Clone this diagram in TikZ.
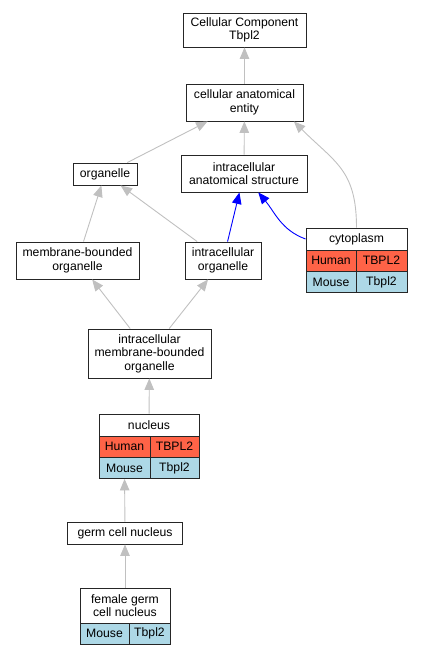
\documentclass[tikz,border=0pt]{standalone}
\usepackage{fontspec}
\setmainfont{Liberation Sans}
\usetikzlibrary{arrows.meta}
\definecolor{tomatored}{HTML}{FF6347}
\definecolor{mouseblue}{HTML}{ADD8E6}
\definecolor{edgegray}{HTML}{C0C0C0}

\begin{document}
\begin{tikzpicture}[x=1pt,y=1pt,
  term/.style={draw=black!85, line width=0.9pt, fill=white, inner sep=0pt,
    align=center, font=\fontsize{12.2}{13.5}\selectfont},
  human/.style={term, fill=tomatored, minimum height=21pt},
  mouse/.style={term, fill=mouseblue, minimum height=21pt},
  isa/.style={draw=edgegray, line width=0.9pt, -{Triangle[length=11.5pt,width=9.5pt]}},
  partof/.style={isa, draw=blue}]
  \useasboundingbox (0,0) rectangle (421,656);

  % Draw the terms, top to bottom
  \node[term, minimum width=123pt, minimum height=34pt] (cc) at (244.5,626) {Cellular Component\\Tbpl2};
  \node[term, minimum width=117pt, minimum height=37pt] (cae) at (244.5,553.5) {cellular anatomical\\entity};
  \node[term, minimum width=64pt, minimum height=22pt] (org) at (105,482) {organelle};
  \node[term, minimum width=126pt, minimum height=37pt] (ias) at (244,482.5) {intracellular\\anatomical structure};
  \node[term, minimum width=123pt, minimum height=37pt] (mbo) at (77.5,395.5) {membrane-bounded\\organelle};
  \node[term, minimum width=76pt, minimum height=37pt] (io) at (223,395.5) {intracellular\\organelle};
  \node[term, minimum width=123pt, minimum height=49pt] (imbo) at (149.5,302.5) {intracellular\\membrane-bounded\\organelle};
  \node[term, minimum width=115pt, minimum height=22pt] (gcn) at (125,123) {germ cell nucleus};

  % Add the cytoplasm table
  \node[term, minimum width=101pt, minimum height=22pt] (cyto) at (356.5,417) {cytoplasm};
  \node[human, minimum width=50pt] (cytohs) at (331,395.5) {Human};
  \node[human, minimum width=51pt] (cytohsgene) at (381.5,395.5) {TBPL2};
  \node[mouse, minimum width=50pt] (cytomm) at (331,374) {Mouse};
  \node[mouse, minimum width=51pt] (cytommgene) at (381.5,374) {Tbpl2};

  % Add the nucleus table
  \node[term, minimum width=100pt, minimum height=22pt] (nuc) at (149,231) {nucleus};
  \node[human, minimum width=51pt] (nuchs) at (124.5,209.5) {Human};
  \node[human, minimum width=49pt] (nuchsgene) at (174.5,209.5) {TBPL2};
  \node[mouse, minimum width=51pt] (nucmm) at (124.5,188) {Mouse};
  \node[mouse, minimum width=49pt] (nucmmgene) at (174.5,188) {Tbpl2};

  % Add the female germ cell nucleus table
  \node[term, minimum width=90pt, minimum height=35pt] (fgcn) at (125,50.5) {female germ\\cell nucleus};
  \node[mouse, minimum width=49pt] (fgcnmm) at (104.5,22.5) {Mouse};
  \node[mouse, minimum width=41pt] (fgcnmmgene) at (149.5,22.5) {Tbpl2};

  % Draw the is-a edges
  \draw[isa] (cae) -- (cc);
  \draw[isa] (org) -- (cae);
  \draw[isa] (ias) -- (cae);
  \draw[isa] (cyto.north) to[out=90, in=-45, looseness=1.2] (cae.-21);
  \draw[isa] (mbo) -- (org);
  \draw[isa] (io) -- (org);
  \draw[isa] (imbo) -- (mbo);
  \draw[isa] (imbo) -- (io);
  \draw[isa] (nuc) -- (imbo);
  \draw[isa] (gcn) -- (nucmm);
  \draw[isa] (fgcn) -- (gcn);

  % Draw the part-of edges
  \draw[partof] (io) -- (ias);
  \draw[partof] (cyto.west) to[out=160, in=-50] (ias.-53);
\end{tikzpicture}
\end{document}
